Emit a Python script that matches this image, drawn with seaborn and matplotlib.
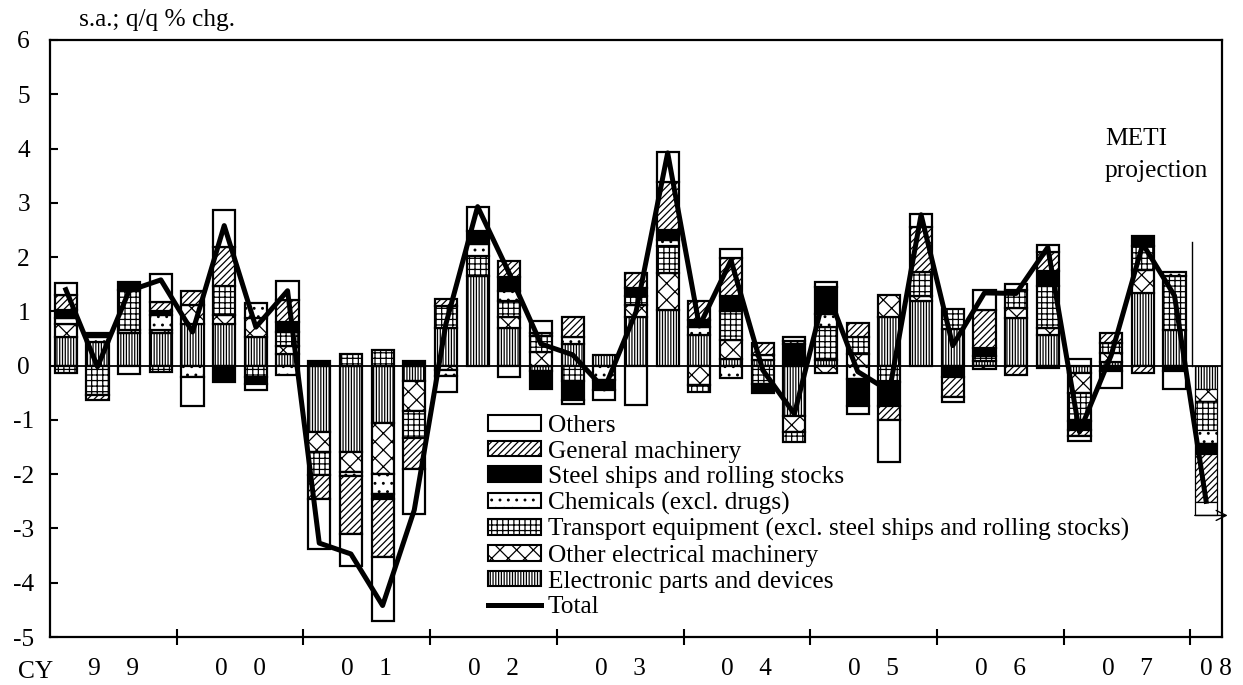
import numpy as np
import matplotlib
matplotlib.use("Agg")
import matplotlib.pyplot as plt
from matplotlib.patches import Patch
from matplotlib.lines import Line2D
import seaborn as sns

plt.rcParams['font.family'] = ['Liberation Serif', 'DejaVu Serif']
plt.rcParams['hatch.linewidth'] = 0.9
plt.rcParams['axes.unicode_minus'] = False

# quarters 1999Q1 .. 2008Q1 (last one = METI projection)
quarters = [f"{y}Q{q}" for y in range(1999, 2008) for q in range(1, 5)] + ["2008Q1"]
year_labels = ['9    9', '0    0', '0    1', '0    2', '0    3', '0    4', '0    5', '0    6', '0    7']
last_year_label = '0 8'

# contributions (% points)
electronic = [0.53, 0.44, 0.60, 0.60, 0.77, 0.76, 0.52, 0.22, -1.23, -1.60, -1.06, -0.28,
              0.70, 1.66, 0.70, -0.09, 0.40, 0.20, 0.90, 1.03, 0.56, 0.13, 0.10, -0.92,
              0.10, 0.00, 0.89, 1.20, 0.67, 0.08, 0.88, 0.57, -0.13, 0.06, 1.34, 0.66, -0.43]
other_elec = [0.24, 0.00, 0.05, 0.05, 0.34, 0.17, 0.36, 0.14, -0.37, -0.36, -0.93, -0.55,
              -0.08, 0.00, 0.19, 0.25, 0.00, 0.00, 0.22, 0.67, -0.36, 0.34, 0.10, -0.31,
              -0.13, 0.21, 0.41, 0.09, 0.00, -0.06, 0.18, 0.12, -0.37, 0.17, 0.43, 0.00, -0.23]
transport = [-0.13, -0.55, 0.74, -0.11, 0.00, 0.53, -0.21, 0.26, -0.42, 0.21, 0.28, -0.50,
             0.40, 0.36, 0.31, 0.30, -0.28, 0.00, 0.16, 0.50, -0.12, 0.53, -0.33, -0.18,
             0.62, 0.31, -0.31, 0.43, 0.37, 0.09, 0.34, 0.77, -0.52, 0.19, 0.43, 1.00, -0.52]
chemicals = [0.11, 0.08, 0.00, 0.28, -0.21, 0.00, 0.28, -0.18, 0.00, -0.08, -0.37, 0.00,
             -0.12, 0.22, 0.18, 0.06, 0.12, -0.26, 0.00, 0.12, 0.15, -0.23, 0.00, 0.00,
             0.24, -0.25, 0.00, 0.00, 0.00, 0.00, 0.10, -0.05, 0.12, 0.00, 0.00, 0.06, -0.24]
steel = [0.14, 0.08, 0.15, 0.07, 0.00, -0.30, -0.12, 0.18, 0.09, 0.00, -0.09, 0.08,
         0.00, 0.24, 0.25, -0.34, -0.36, -0.19, 0.15, 0.18, 0.13, 0.28, -0.17, 0.40,
         0.49, -0.49, -0.43, 0.00, -0.21, 0.16, 0.00, 0.28, -0.16, -0.10, 0.19, -0.10, -0.20]
general = [0.29, -0.09, 0.00, 0.17, 0.26, 0.72, 0.00, 0.41, -0.43, -1.06, -1.08, -0.57,
           0.13, 0.00, 0.30, 0.00, 0.38, 0.00, 0.28, 0.89, 0.35, 0.70, 0.22, 0.06,
           0.00, 0.26, -0.27, 0.83, -0.37, 0.70, -0.17, 0.36, -0.12, 0.18, -0.13, 0.00, -0.90]
others = [0.22, 0.00, -0.16, 0.51, -0.54, 0.68, -0.12, 0.35, -0.92, -0.60, -1.17, -0.84,
          -0.29, 0.45, -0.21, 0.22, -0.06, -0.18, -0.72, 0.54, 0.00, 0.17, 0.00, 0.06,
          0.10, -0.15, -0.76, 0.25, -0.09, 0.37, 0.00, 0.13, -0.09, -0.31, 0.00, -0.33, -0.24]
total = [1.40, -0.02, 1.38, 1.58, 0.62, 2.58, 0.71, 1.38, -3.27, -3.47, -4.42, -2.66,
         0.77, 2.93, 1.70, 0.40, 0.20, -0.43, 0.99, 3.92, 0.73, 1.94, -0.08, -0.89,
         1.42, -0.11, -0.47, 2.78, 0.37, 1.34, 1.33, 2.18, -1.22, 0.19, 2.24, 1.29, -2.50]

# stacking order from zero outwards, with (legend label, face, hatch)
layers = [
    ("Electronic parts and devices", electronic, "white", "||||||"),
    ("Other electrical machinery", other_elec, "white", "xx"),
    ("Transport equipment (excl. steel ships and rolling stocks)", transport, "white", "+++"),
    ("Chemicals (excl. drugs)", chemicals, "white", ".."),
    ("Steel ships and rolling stocks", steel, "black", None),
    ("General machinery", general, "white", "/////"),
    ("Others", others, "white", None),
]

fs = 18.3

fig = plt.figure(figsize=(12.43, 6.85), dpi=100)
ax = fig.add_axes([50 / 1243, 48 / 685, 1172 / 1243, 597 / 685])

n = len(quarters)
qarr = np.array(quarters)
pos_base = np.zeros(n)
neg_base = np.zeros(n)
for label, vals, fc, hatch in layers:
    vals = np.array(vals)
    for base, mask in ((pos_base, vals > 0), (neg_base, vals < 0)):
        if mask.any():
            sns.barplot(x=qarr[mask], y=vals[mask], order=quarters, bottom=base[mask],
                        width=0.7, errorbar=None, ax=ax, color=fc, facecolor=fc,
                        edgecolor="black", hatch=hatch, linewidth=1.6, zorder=2)
        base[mask] += vals[mask]

# projection bar drawn with thin outline
for p in ax.patches:
    if p.get_x() > 35.5:
        p.set_linewidth(0.9)

sns.lineplot(x=np.arange(n), y=total, color="black", linewidth=3.6, ax=ax,
             zorder=5, legend=False)
ax.axhline(0, color="black", linewidth=1.3, zorder=1)

ax.set_xlim(-0.5, n - 0.5)
ax.set_ylim(-5, 6)
ax.set_yticks(range(-5, 7))
ax.set_xlabel("")
ax.set_ylabel("")
ax.set_xticks(np.arange(3.5, 36, 4))
ax.set_xticklabels([])
ax.set_xticks(list(np.arange(1.5, 34, 4)) + [36.3], minor=True)
ax.set_xticklabels(year_labels + [last_year_label], minor=True)
ax.tick_params(axis="x", which="major", direction="inout", length=12, width=1.5)
ax.tick_params(axis="x", which="minor", length=0, pad=15, labelsize=fs)
ax.tick_params(axis="y", direction="in", length=6, width=1.5, pad=19, labelsize=fs)
for t in ax.get_yticklabels():
    t.set_horizontalalignment("center")
for s in ax.spines.values():
    s.set_linewidth(1.6)

# projection marker
ax.plot([35.55, 35.55], [0, 2.28], color="black", linewidth=1.0)
ax.annotate("", xy=(36.68, -2.76), xytext=(35.64, -2.76), annotation_clip=False,
            arrowprops=dict(arrowstyle="->", lw=1.0, color="black",
                            shrinkA=0, shrinkB=0, mutation_scale=18))
fig.text(1105 / 1243, 1 - 145 / 685, "METI", ha="left", va="baseline", fontsize=fs)
fig.text(1105 / 1243, 1 - 177 / 685, "projection", ha="left", va="baseline", fontsize=fs)

fig.text(79 / 1243, 1 - 26 / 685, "s.a.; q/q % chg.", ha="left", va="baseline", fontsize=fs)
fig.text(36 / 1243, 1 - 678 / 685, "CY", ha="center", va="baseline", fontsize=fs)

handles = [Patch(facecolor=fc, edgecolor="black", hatch=h, linewidth=1.5)
           for _, _, fc, h in layers][::-1]
labels = [l for l, _, _, _ in layers][::-1]
handles.append(Line2D([0], [0], color="black", linewidth=3.6))
labels.append("Total")
fig.legend(handles, labels, loc="upper left", bbox_to_anchor=(488 / 1243, 1 - 415 / 685),
           frameon=False, fontsize=fs, handlelength=2.1, handleheight=0.55,
           handletextpad=0.25, labelspacing=0.14, borderpad=0, borderaxespad=0)

fig.savefig("out.png", dpi=100)
